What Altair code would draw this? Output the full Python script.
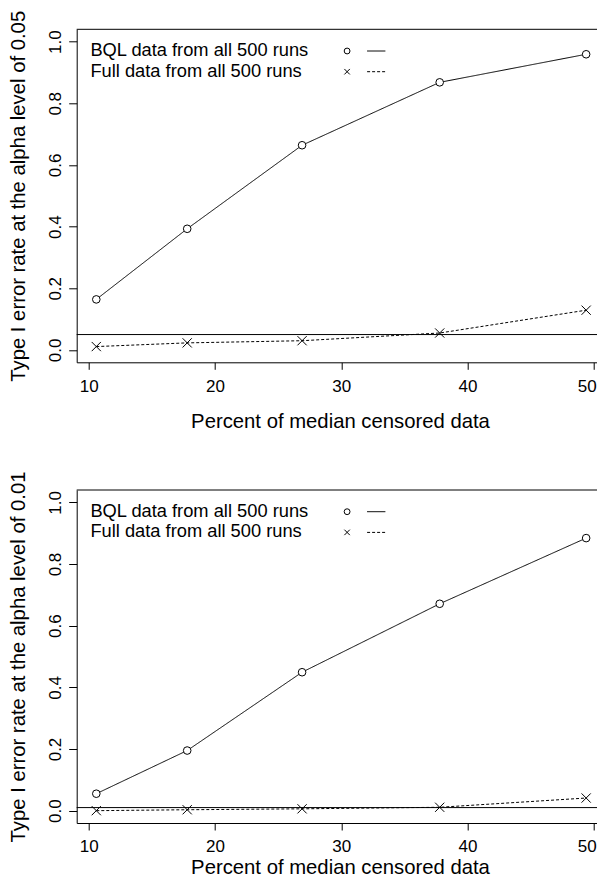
import altair as alt
import pandas as pd

# ---- data ----
censored_pct = [10.6, 17.8, 26.9, 37.8, 49.4]
bql_005 = [0.164, 0.393, 0.664, 0.868, 0.959]
full_005 = [0.011, 0.023, 0.030, 0.055, 0.129]
bql_001 = [0.055, 0.195, 0.449, 0.671, 0.884]
full_001 = [0.000, 0.003, 0.006, 0.011, 0.041]
alpha_levels = [0.05, 0.01]
series_labels = ["BQL data from all 500 runs", "Full data from all 500 runs"]
x_ticks = [10, 20, 30, 40, 50]
y_ticks = [0.0, 0.2, 0.4, 0.6, 0.8, 1.0]
y_titles = ["Type I error rate at the alpha level of 0.05",
            "Type I error rate at the alpha level of 0.01"]
x_title = "Percent of median censored data"

# ---- style / layout ----
FONT = "Liberation Sans"
LEFT, TOP = 68.7, 21.3          # plot-area origin inside the svg
SVG_W, SVG_H = 589, 870         # whole picture (the frame's right side is cut off)
GAP = 127.7                     # between the two plot areas
PX_PER_UNIT = 12.625
W, H = SVG_W - LEFT, 333
X_DOMAIN = [9.048, 9.048 + W / PX_PER_UNIT]
Y_DOMAIN = [-0.04, 1.04]
CROSS = "M-1,-1L1,1M-1,1L1,-1"
DASH = [3, 2]


def one_row():
    return alt.InlineData(values=[{"k": 0}])


def panel(bql, full, alpha, ytitle, xlabel_pad, xtitle_y):
    df = pd.DataFrame({
        "x": censored_pct + censored_pct,
        "y": bql + full,
        "series": [series_labels[0]] * len(bql) + [series_labels[1]] * len(full),
    })
    xenc = alt.X("x:Q",
                 scale=alt.Scale(domain=X_DOMAIN, nice=False, zero=False),
                 axis=alt.Axis(values=x_ticks, format="d", title=x_title,
                               tickSize=7, labelPadding=xlabel_pad,
                               labelBaseline="alphabetic",
                               labelOffset={"condition": {"test": "datum.value >= 50",
                                                          "value": -7},
                                            "value": 0},
                               titleBaseline="alphabetic", titleY=xtitle_y,
                               titleX=263.3))
    yenc = alt.Y("y:Q",
                 scale=alt.Scale(domain=Y_DOMAIN, nice=False, zero=False),
                 axis=alt.Axis(values=y_ticks, format=".1f", title=ytitle,
                               tickSize=8, labelPadding=8.3, labelAngle=270,
                               labelAlign="center", labelBaseline="alphabetic",
                               titleAngle=270, titleAlign="center",
                               titleBaseline="alphabetic", titleX=-51.8, titleY=H / 2))
    base = alt.Chart(df)
    lines = base.mark_line(color="black", strokeWidth=1).encode(
        x=xenc, y=yenc,
        strokeDash=alt.StrokeDash("series:N",
                                  scale=alt.Scale(domain=series_labels, range=[[1, 0], DASH]),
                                  legend=None),
    )
    points = base.mark_point(filled=True, fill="white", stroke="black", strokeWidth=1,
                             opacity=1).encode(
        x="x:Q", y="y:Q",
        shape=alt.Shape("series:N",
                        scale=alt.Scale(domain=series_labels, range=["circle", CROSS]),
                        legend=None),
        size=alt.Size("series:N",
                      scale=alt.Scale(domain=series_labels, range=[58, 85]),
                      legend=None),
    )
    ref = alt.Chart(one_row()).mark_rule(color="black", strokeWidth=1).encode(
        y=alt.datum(alpha))
    # top edge of the plot frame (its right edge lies outside the picture)
    frame_top = alt.Chart(one_row()).mark_rule(color="black", strokeWidth=1).encode(
        x=alt.value(0), x2=alt.value(W), y=alt.value(0))

    layers = [frame_top, ref, lines, points]
    # legend (text on the left, symbol and line sample on the right, as in R)
    row_y = [21.7, 42.4]
    shapes = ["circle", CROSS]
    sizes = [34, 30]
    dashes = [[1, 0], DASH]
    for i, lab in enumerate(series_labels):
        layers.append(alt.Chart(one_row()).mark_text(
            align="left", baseline="middle", font=FONT, fontSize=18.3, fill="black").encode(
            x=alt.value(13.7), y=alt.value(row_y[i]), text=alt.datum(lab)))
        layers.append(alt.Chart(one_row()).mark_point(
            shape=shapes[i], size=sizes[i], filled=False, stroke="black",
            strokeWidth=1, opacity=1).encode(
            x=alt.value(270.4), y=alt.value(row_y[i])))
        layers.append(alt.Chart(one_row()).mark_rule(
            color="black", strokeWidth=1, strokeDash=dashes[i]).encode(
            x=alt.value(290.4), x2=alt.value(308.7), y=alt.value(row_y[i])))

    return alt.layer(*layers).properties(width=W, height=H)


top = panel(bql_005, full_005, alpha_levels[0], y_titles[0], 22, 65.3)
bottom = panel(bql_001, full_001, alpha_levels[1], y_titles[1], 21, 50.3)

# with autosize "none" the svg is padding + layout width (height counts as 0)
pad_right = SVG_W - LEFT - W
pad_bottom = SVG_H - TOP

chart = alt.vconcat(top, bottom, spacing=GAP, bounds="flush").properties(
    autosize=alt.AutoSizeParams(type="none"),
    padding={"left": LEFT, "top": TOP, "right": pad_right, "bottom": pad_bottom},
    background="white",
).configure_view(
    stroke=None
).configure_axis(
    grid=False, domain=True, domainColor="black", domainWidth=1,
    tickColor="black", tickWidth=1,
    labelColor="black", titleColor="black",
    labelFont=FONT, titleFont=FONT, labelFontSize=17, titleFontSize=20.3,
    titleFontWeight="normal", labelFlush=False, labelOverlap=False,
)

chart.save("out.html", embed_options={"renderer": "svg", "actions": False})
